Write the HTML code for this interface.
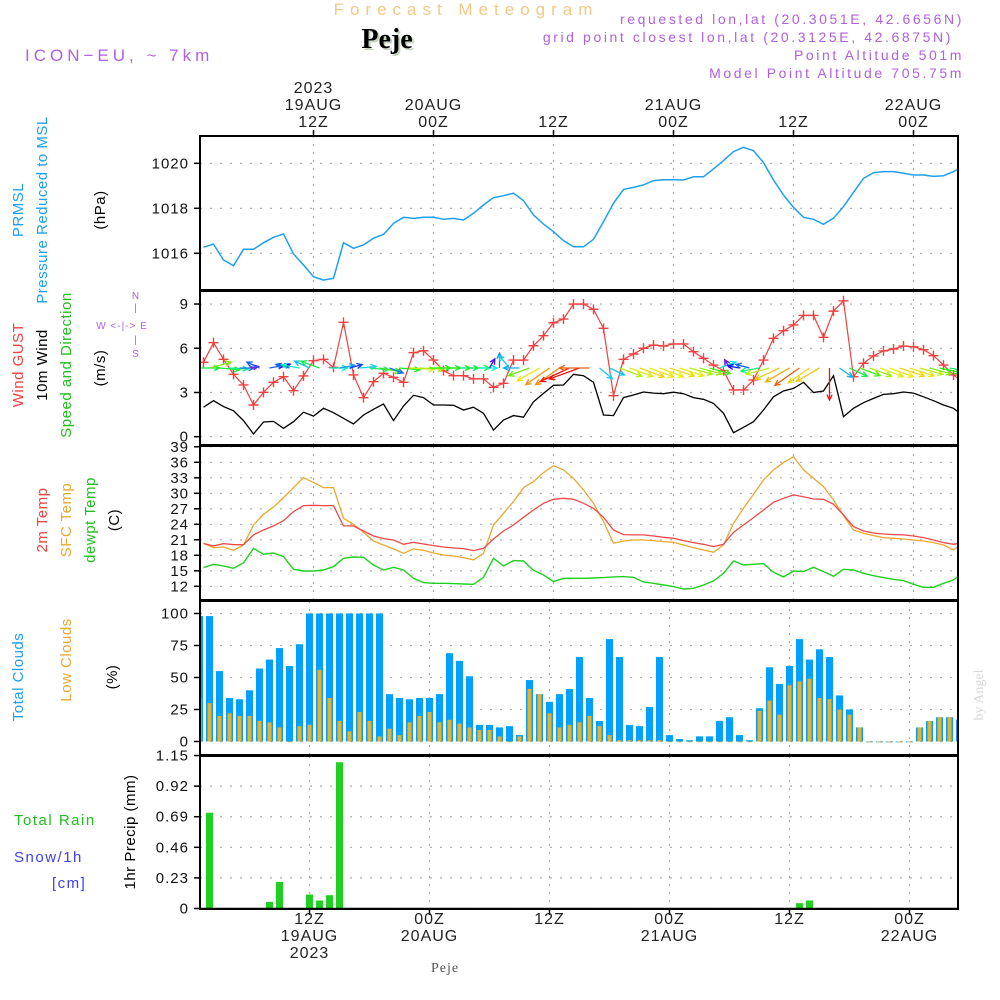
<!DOCTYPE html>
<html><head><meta charset="utf-8"><style>
html,body{margin:0;padding:0;background:#fff;width:1000px;height:1000px;overflow:hidden}
svg{display:block}
text{font-family:"Liberation Sans",sans-serif}
</style></head><body>
<svg id="chart" width="1000" height="1000" viewBox="0 0 1000 1000" xmlns="http://www.w3.org/2000/svg">
<defs>
<clipPath id="cp"><rect x="200" y="136" width="758" height="154"/></clipPath>
<clipPath id="cw"><rect x="200" y="291" width="758" height="154"/></clipPath>
<clipPath id="ct"><rect x="200" y="446" width="758" height="154"/></clipPath>
<clipPath id="cc"><rect x="200" y="601" width="758" height="154"/></clipPath>
<clipPath id="cr"><rect x="200" y="756" width="758" height="153"/></clipPath>
</defs>
<g id="static">
<text x="466" y="15" font-size="17" fill="#f2c987" text-anchor="middle" letter-spacing="6">Forecast Meteogram</text>
<text x="389" y="50" font-size="28" font-weight="bold" fill="#c7d4c0" text-anchor="middle" style="font-family:'Liberation Serif',serif">Peje</text>
<text x="387" y="48" font-size="28" font-weight="bold" fill="#000" text-anchor="middle" style="font-family:'Liberation Serif',serif">Peje</text>
<text x="25" y="61" font-size="17" fill="#b060e0" letter-spacing="4">ICON−EU, ~ 7km</text>
<g fill="#b060e0" font-size="14" text-anchor="end" letter-spacing="2.6">
<text x="964" y="24">requested lon,lat (20.3051E, 42.6656N)</text>
<text x="953" y="42">grid point closest lon,lat (20.3125E, 42.6875N)</text>
<text x="964" y="60">Point Altitude 501m</text>
<text x="964" y="78">Model Point Altitude 705.75m</text>
</g>
<text x="983" y="695" font-size="14" fill="#d8d8d8" text-anchor="middle" transform="rotate(-90 983 695)" style="font-family:'Liberation Serif',serif">by Angel</text>
<text x="445" y="972" font-size="14" fill="#555" text-anchor="middle" style="font-family:'Liberation Serif',serif" letter-spacing="1">Peje</text>
</g>
<g id="dyn"></g>
</svg>
<script>
// ---- data (hourly, from 01Z 19AUG 2023) ----
const pressure = [1016.27,1016.41,1015.70,1015.45,1016.18,1016.18,1016.47,1016.71,1016.86,1015.97,1015.48,1014.96,1014.81,1014.89,1016.47,1016.22,1016.37,1016.67,1016.84,1017.33,1017.6,1017.55,1017.6,1017.6,1017.51,1017.55,1017.48,1017.78,1018.15,1018.47,1018.56,1018.67,1018.34,1017.70,1017.30,1016.96,1016.56,1016.29,1016.29,1016.62,1017.40,1018.22,1018.84,1018.93,1019.04,1019.23,1019.27,1019.27,1019.26,1019.40,1019.40,1019.75,1020.12,1020.52,1020.71,1020.56,1020.03,1019.26,1018.59,1018.04,1017.6,1017.51,1017.29,1017.56,1018.07,1018.71,1019.33,1019.58,1019.63,1019.63,1019.56,1019.48,1019.48,1019.42,1019.45,1019.63,1019.88];
const windSpeed = [2.0,2.44,2.04,1.76,1.09,0.18,1.0,1.04,0.57,1.02,1.66,1.4,1.93,1.63,1.25,0.86,1.47,1.86,2.22,1.09,2.08,2.81,2.65,2.15,2.15,2.13,1.81,2.0,1.59,0.45,1.13,1.43,1.32,2.37,2.94,3.49,3.51,4.23,4.14,3.69,1.47,1.43,2.65,2.83,3.03,2.96,2.92,3.02,2.92,2.65,2.54,2.26,1.59,0.27,0.64,1.02,1.81,2.71,3.1,3.28,3.69,3.0,3.1,4.14,1.36,1.93,2.31,2.6,2.87,2.92,3.03,2.96,2.71,2.44,2.15,1.93,1.4];
const windGust = [5.05,6.38,5.25,4.23,3.51,2.15,3.01,3.69,4.07,3.12,4.12,5.16,5.25,4.7,7.76,4.19,2.65,3.73,4.3,4.03,3.69,5.7,5.83,5.2,4.48,4.14,4.14,3.92,3.92,3.35,3.62,5.2,5.2,6.17,6.85,7.73,7.98,9.0,9.0,8.64,7.35,2.78,5.25,5.61,6.0,6.22,6.15,6.29,6.29,5.77,5.32,4.86,4.48,3.17,3.17,3.85,5.2,6.67,7.19,7.58,8.23,8.23,6.74,8.52,9.22,4.07,4.98,5.48,5.82,5.95,6.15,6.1,5.9,5.5,4.86,4.19,3.67];
const windDir = [0,15,-5,-3,0,10,155,10,20,165,170,155,160,0,10,15,5,-5,-10,-20,-5,-3,-3,0,0,0,0,0,0,60,90,130,180,200,210,215,215,205,200,180,-40,-25,-20,-20,-20,-20,-20,-18,-18,-15,-15,-15,20,120,170,165,190,195,205,210,215,215,210,-90,-35,-25,-20,-20,-20,-20,-18,-18,-15,-15,-12,-10,-10];
const temp2m = [20.26,19.81,20.26,20.06,20.06,21.94,22.9,23.68,24.71,26.45,27.61,27.68,27.61,27.61,23.68,23.68,22.71,21.74,21.23,20.97,20.13,20.52,20.19,19.87,19.61,19.42,19.29,18.9,19.35,21.16,22.71,23.87,25.35,26.77,28.06,28.84,29.03,28.84,28.06,27.1,25.35,22.9,22.0,21.94,21.94,21.74,21.48,21.29,20.84,20.45,20.13,19.68,20.13,22.45,23.87,25.29,26.77,28.26,29.03,29.68,29.35,28.9,28.84,27.87,25.81,23.55,22.71,22.32,22.13,22.0,21.94,21.74,21.42,20.97,20.45,20.13,20.52];
const tempSfc = [20.39,19.48,19.61,18.97,20.0,23.87,25.94,27.35,29.16,31.1,33.03,32.06,31.1,31.1,25.16,24.0,22.45,20.77,20.0,19.23,18.39,19.23,18.97,18.45,18.06,17.87,17.55,17.1,18.39,23.87,26.13,28.39,31.1,32.26,34.0,35.35,34.52,32.9,30.65,28.06,24.52,20.32,20.77,20.97,20.97,20.84,20.65,20.52,20.0,19.48,19.03,18.58,20.0,24.19,27.1,29.81,32.58,34.52,35.94,37.1,34.52,32.9,31.29,28.71,25.68,22.9,22.26,21.81,21.42,21.29,21.16,20.97,20.77,20.45,20.0,19.03,20.45];
const dewpoint = [15.61,16.26,15.94,15.48,16.52,19.35,18.19,18.45,17.74,15.29,14.97,14.97,15.16,15.81,17.42,17.68,17.61,16.13,15.16,15.68,15.16,13.55,12.71,12.58,12.58,12.52,12.45,12.39,13.74,17.42,15.94,16.97,16.9,15.1,14.19,12.9,13.55,13.55,13.55,13.61,13.68,13.81,13.87,13.74,12.84,12.58,12.26,11.94,11.48,11.61,12.26,13.03,14.52,16.9,16.13,16.26,16.39,14.71,13.81,14.97,14.84,15.68,14.84,13.94,15.29,15.16,14.52,14.06,13.68,13.35,13.1,12.39,11.81,11.81,12.58,13.23,14.71];
const totalClouds = [98,98,55,34,33,40,57,64,73,59,76,100,100,100,100,100,100,100,100,37,34,33,34,34,37,69,63,51,13,13,11,12,5,48,37,31,37,41,66,34,16,80,66,13,12,27,66,5,2,1,4,4,16,19,5,1,26,58,45,59,80,64,72,66,36,25,11,0,0,0,0,0,11,16,19,19,17];
const lowClouds = [34,30,20,22,20,20,16,15,11,0,12,13,56,34,16,8,23,16,4,10,5,15,20,23,15,17,14,11,9,9,4,0,4,41,37,22,11,13,15,20,12,5,1,1,1,1,1,0,0,0,0,0,0,0,0,0,24,32,21,44,47,49,34,33,25,21,11,0,0,0,0,0,11,16,19,19,17];
const precip = [0,0.72,0,0,0,0,0,0.05,0.2,0,0,0.105,0.06,0.1,1.1,0,0,0,0,0,0,0,0,0,0,0,0,0,0,0,0,0,0,0,0,0,0,0,0,0,0,0,0,0,0,0,0,0,0,0,0,0,0,0,0,0,0,0,0,0,0.04,0.06,0,0,0,0,0,0,0,0,0,0,0,0,0,0,0];
const pressTicks = [1016,1018,1020];
const windTicks = [0,3,6,9];
const tempTicks = [12,15,18,21,24,27,30,33,36,39];
const cloudTicks = [0,25,50,75,100];
const precipTicks = [0,0.23,0.46,0.69,0.92,1.15];
const precipTickLabels = ["0","0.23","0.46","0.69","0.92","1.15"];
const gridHours = [12,24,36,48,60,72];
const topTop = ["2023","","","","",""];
const topMid = ["19AUG","20AUG","","21AUG","","22AUG"];
const topBot = ["12Z","00Z","12Z","00Z","12Z","00Z"];
const botLine1 = ["12Z","00Z","12Z","00Z","12Z","00Z"];
const botLine2 = ["19AUG","20AUG","","21AUG","","22AUG"];
const botLine3 = ["2023","","","","",""];

// ---- scales ----
const xL = h => 313.5 + (h - 12) * 10;
const xB = h => 309.5 + (h - 12) * 10;
const yP = v => 253.3 - (v - 1016) * 22.5;
const yW = v => 436.7 - v * 14.74;
const yT = v => 586.3 - (v - 12) * 5.167;
const yC = v => 741.5 - v * 1.28;
const yR = v => 908.5 - v * 133;
const hourOf = i => i + 1;

const NS = "http://www.w3.org/2000/svg";
const root = document.getElementById("dyn");
function mk(tag, attrs, parent) {
  const e = document.createElementNS(NS, tag);
  for (const k in attrs) e.setAttribute(k, attrs[k]);
  (parent || root).appendChild(e);
  return e;
}
function txt(s, x, y, size, fill, anchor, parent) {
  const t = mk("text", {x: x, y: y, "font-size": size, fill: fill, "text-anchor": anchor || "middle", "letter-spacing": "1"}, parent);
  t.textContent = s;
  return t;
}
const panels = [
  {name: "pressure", top: 136, bot: 290, ticks: pressTicks, labs: pressTicks.map(String), y: yP, xg: xL},
  {name: "wind", top: 291, bot: 445, ticks: windTicks, labs: windTicks.map(String), y: yW, xg: xL},
  {name: "temperature", top: 446, bot: 600, ticks: tempTicks, labs: tempTicks.map(String), y: yT, xg: xL},
  {name: "clouds", top: 601, bot: 755, ticks: cloudTicks, labs: cloudTicks.map(String), y: yC, xg: xB},
  {name: "precip", top: 756, bot: 909, ticks: precipTicks, labs: precipTickLabels, y: yR, xg: xB}
];
panels.forEach(p => {
  const g = mk("g", {});
  
  
  p.ticks.forEach((v, k) => {
    const y = p.y(v);
    mk("line", {x1: 200, x2: 958, y1: y, y2: y, stroke: "#aaa", "stroke-width": 1.2, "stroke-dasharray": "2 8"}, g);
    mk("line", {x1: 194, x2: 200, y1: y, y2: y, stroke: "#000", "stroke-width": 1.5}, g);
    const t = txt(p.labs[k], 189, y + 5, 15, "#111", "end", g);
    
    
  });
  gridHours.forEach(h => {
    const x = p.xg(h);
    mk("line", {x1: x, x2: x, y1: p.top, y2: p.bot, stroke: "#aaa", "stroke-width": 1.2, "stroke-dasharray": "2 6"}, g);
  });
});
gridHours.forEach((h, k) => {
  const x = xL(h);
  mk("line", {x1: x, x2: x, y1: 130, y2: 136, stroke: "#000", "stroke-width": 1.5});
  const g = mk("g", {});
  
  
  if (topTop[k]) txt(topTop[k], x, 93, 16, "#222", "middle", g);
  if (topMid[k]) txt(topMid[k], x, 110, 16, "#222", "middle", g);
  txt(topBot[k], x, 127, 16, "#222", "middle", g);
  const xb = xB(h);
  mk("line", {x1: xb, x2: xb, y1: 909, y2: 915, stroke: "#000", "stroke-width": 1.5});
  const g2 = mk("g", {});
  
  
  txt(botLine1[k], xb, 924, 16, "#222", "middle", g2);
  if (botLine2[k]) txt(botLine2[k], xb, 941, 16, "#222", "middle", g2);
  if (botLine3[k]) txt(botLine3[k], xb, 958, 16, "#222", "middle", g2);
});

function polyline(vals, xs, ys, color, clip, name, w) {
  const pts = vals.map((v, i) => xs(hourOf(i)).toFixed(1) + "," + ys(v).toFixed(1)).join(" ");
  const pl = mk("polyline", {points: pts, fill: "none", stroke: color, "stroke-width": w || 1.4, "clip-path": "url(#" + clip + ")"});
  
  
  return pl;
}
polyline(pressure, xL, yP, "#1ea0f0", "cp", "pressure-line", 1.5);
polyline(windSpeed, xL, yW, "#000", "cw", "wind-speed-line", 1.3);
polyline(windGust, xL, yW, "#f04040", "cw", "wind-gust-line", 1.2);
const gm = mk("g", {"clip-path": "url(#cw)"});


windGust.forEach((v, i) => {
  const x = xL(hourOf(i)), y = yW(v);
  const m = mk("path", {d: `M${x-5},${y}H${x+5}M${x},${y-5}V${y+5}`, stroke: "#f04040", "stroke-width": 1.4}, gm);
  
  
});
function spdColor(s) {
  const stops = [[0, 280], [1, 220], [1.5, 185], [2, 130], [2.5, 85], [3, 55], [3.5, 35], [4, 0]];
  let h = 0;
  if (s >= 4) h = 0; else {
    for (let k = 0; k < stops.length - 1; k++) {
      if (s >= stops[k][0] && s <= stops[k + 1][0]) {
        const f = (s - stops[k][0]) / (stops[k + 1][0] - stops[k][0]);
        h = stops[k][1] + f * (stops[k + 1][1] - stops[k][1]);
      }
    }
  }
  return `hsl(${h},85%,50%)`;
}
const ga = mk("g", {"clip-path": "url(#cw)"});


windDir.forEach((d, i) => {
  const s = windSpeed[i];
  const L = Math.min(32, 8 + 6 * s);
  const a = d * Math.PI / 180;
  const x0 = xL(hourOf(i)) - 4, y0 = 368;
  const x1 = x0 + L * Math.cos(a), y1 = y0 - L * Math.sin(a);
  const hl = 6, b1 = a + Math.PI - 0.45, b2 = a + Math.PI + 0.45;
  const d1 = `M${x0},${y0}L${x1},${y1}M${x1 + hl*Math.cos(b1)},${y1 - hl*Math.sin(b1)}L${x1},${y1}L${x1 + hl*Math.cos(b2)},${y1 - hl*Math.sin(b2)}`;
  const ar = mk("path", {d: d1, stroke: spdColor(s), "stroke-width": 1.3, fill: "none"}, ga);
  
  
});
polyline(tempSfc, xL, yT, "#e8a830", "ct", "sfc-temp-line", 1.3);
polyline(temp2m, xL, yT, "#f04848", "ct", "2m-temp-line", 1.3);
polyline(dewpoint, xL, yT, "#20d020", "ct", "dewpoint-line", 1.4);
const gc = mk("g", {"clip-path": "url(#cc)"});


totalClouds.forEach((v, i) => {
  const x = xB(hourOf(i));
  const r = mk("rect", {x: x - 3.5, y: yC(v), width: 7, height: Math.max(0.8, yC(0) - yC(v)), fill: "#00a0ff"}, gc);
  
  
  const lv = lowClouds[i];
  const r2 = mk("rect", {x: x - 2, y: yC(lv), width: 4, height: Math.max(0.8, yC(0) - yC(lv)), fill: "#e8b030"}, gc);
  
  
});
const gr = mk("g", {"clip-path": "url(#cr)"});


precip.forEach((v, i) => {
  const x = xB(hourOf(i));
  if (v > 0) {
    const r = mk("rect", {x: x - 3.5, y: yR(v), width: 7, height: yR(0) - yR(v), fill: "#20d020"}, gr);
    
    
  }
});
mk("line", {x1: 200, x2: 958, y1: 908.5, y2: 908.5, stroke: "#000", "stroke-width": 1.5});
panels.forEach(p => {
  const f = mk("rect", {x: 200, y: p.top, width: 758, height: p.bot - p.top, fill: "none", stroke: "#000", "stroke-width": 2});
  
  
});
function vtxt(s, x, y, color, size, name) {
  const t = mk("text", {x: x, y: y, "font-size": size || 15, fill: color, "text-anchor": "middle", transform: `rotate(-90 ${x} ${y})`, "letter-spacing": "0.5"});
  t.textContent = s;
  
  
}
vtxt("PRMSL", 23, 210, "#1ea0f0", 15, "pressure-title-1");
vtxt("Pressure Reduced to MSL", 47, 210, "#1ea0f0", 15, "pressure-title-2");
vtxt("(hPa)", 105, 210, "#000", 15, "pressure-unit");
vtxt("Wind GUST", 23, 365, "#f04040", 15, "wind-gust-title");
vtxt("10m Wind", 47, 365, "#000", 15, "wind-speed-title");
vtxt("Speed and Direction", 71, 365, "#20c020", 15, "wind-direction-title");
vtxt("(m/s)", 105, 368, "#000", 15, "wind-unit");
vtxt("2m Temp", 47, 520, "#f04040", 15, "temp-2m-title");
vtxt("SFC Temp", 71, 520, "#e8a830", 15, "temp-sfc-title");
vtxt("dewpt Temp", 95, 520, "#20c020", 15, "dewpoint-title");
vtxt("(C)", 119, 520, "#000", 15, "temp-unit");
vtxt("Total Clouds", 23, 677, "#1ea0f0", 15, "total-clouds-title");
vtxt("Low Clouds", 71, 660, "#e8a830", 15, "low-clouds-title");
vtxt("(%)", 117, 677, "#000", 15, "clouds-unit");
vtxt("1hr Precip (mm)", 135, 832, "#000", 15, "precip-title");
const lg = mk("g", {});


const t1 = mk("text", {x: 14, y: 825, "font-size": 15, fill: "#20c020", "letter-spacing": "1.5"}, lg); t1.textContent = "Total  Rain";
const t2 = mk("text", {x: 14, y: 862, "font-size": 15, fill: "#4040f0", "letter-spacing": "1.5"}, lg); t2.textContent = "Snow/1h";
const t3 = mk("text", {x: 52, y: 888, "font-size": 15, fill: "#4040f0", "letter-spacing": "1.5"}, lg); t3.textContent = "[cm]";
const cg = mk("g", {fill: "#b060e0", "font-size": 10});


txt("N", 136, 299, 10, "#b060e0", "middle", cg);
txt("|", 136, 311, 10, "#b060e0", "middle", cg);
txt("W  <-|->  E", 122, 329, 10, "#b060e0", "middle", cg);
txt("|", 136, 343, 10, "#b060e0", "middle", cg);
txt("S", 136, 357, 10, "#b060e0", "middle", cg);
</script>
</body></html>
